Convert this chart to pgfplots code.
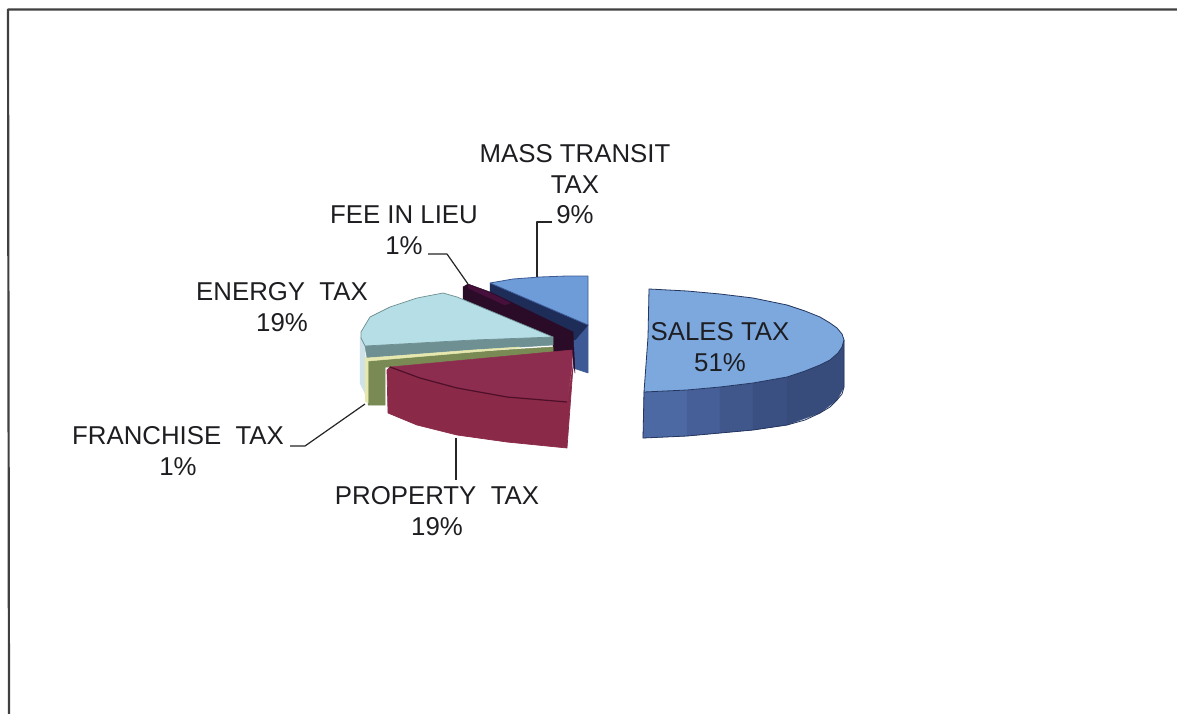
\documentclass[border=0pt]{standalone}
\usepackage{pgfplots}
\pgfplotsset{compat=1.18}
\usepackage{fontspec}
\setmainfont{Liberation Sans}
\definecolor{txt}{HTML}{1E1E22}
\definecolor{salesT}{HTML}{7CA8DE}
\definecolor{salesA}{HTML}{4C69A3}
\definecolor{salesB}{HTML}{465F98}
\definecolor{salesC}{HTML}{40578C}
\definecolor{salesD}{HTML}{3A4F82}
\definecolor{salesE}{HTML}{384C7C}
\definecolor{edgeB}{HTML}{24365F}
\definecolor{massT}{HTML}{6E9CD8}
\definecolor{massS}{HTML}{3D5A96}
\definecolor{massD}{HTML}{1E2C58}
\definecolor{feeC}{HTML}{2A0C28}
\definecolor{feeD}{HTML}{47103C}
\definecolor{engT}{HTML}{B6DEE6}
\definecolor{engS}{HTML}{CFE2EA}
\definecolor{engB}{HTML}{6E9092}
\definecolor{franY}{HTML}{E6E8B0}
\definecolor{franS}{HTML}{7A8A54}
\definecolor{propT}{HTML}{8C2C4E}
\definecolor{propS}{HTML}{8A2A48}
\definecolor{propE}{HTML}{4E0F28}
\begin{document}
\begin{tikzpicture}[every node/.style={font=\fontsize{25.8}{30}\selectfont, text=txt, inner sep=0pt, anchor=center}]
\begin{axis}[
  hide axis, scale only axis, width=1177pt, height=714pt,
  xmin=0, xmax=1177, ymin=0, ymax=714, y dir=reverse,
  clip=true, axis on top=false,
  every axis plot/.append style={mark=none, line join=round}
]
\fill[white] (axis cs:0,0) rectangle (axis cs:1177,714);
% frame
\addplot[draw=black!75, line width=2.2pt] coordinates {(1177,9.5) (8,9.5) (9,714)};
% mass transit
\addplot[fill=massS, draw=massS, line width=.5pt] coordinates {(573,325) (588,325) (588,373) (573,368)} -- cycle;
\addplot[fill=massD, draw=massD, line width=.5pt] coordinates {(490,283) (588,325) (575,340) (490,292)} -- cycle;
\addplot[fill=massT, draw=massS, line width=.8pt] coordinates {(490,283) (513,279) (540,277) (567,276) (588,276) (588,325)} -- cycle;
% fee in lieu
\addplot[fill=feeC, draw=feeC, line width=.5pt] coordinates {(463,287) (468,284) (490,292) (573,332) (575,373) (572,352) (553,352) (553,337) (463,300)} -- cycle;
\addplot[fill=feeD, draw=feeD, line width=.5pt] coordinates {(468,285) (490,293) (510,303) (505,305) (468,288)} -- cycle;
% energy
\addplot[fill=engS, draw=engS, line width=.5pt] coordinates {(360,337) (365,346) (365,393) (360,383)} -- cycle;
\addplot[fill=engB, draw=engB, line width=.5pt] coordinates {(365,346) (473,340) (553,337) (553,345) (473,350) (367,358)} -- cycle;
\addplot[fill=engT, draw=engB, line width=.7pt] coordinates {(361,332) (370,317) (390,307) (417,298) (443,293) (457,297) (553,337) (473,340) (365,346) (361,338)} -- cycle;
% franchise
\addplot[fill=franS, draw=franS, line width=.5pt] coordinates {(368,360) (473,352) (553,347) (553,352) (390,367) (385,367) (385,405) (368,405)} -- cycle;
\addplot[fill=franY, draw=franY, line width=.5pt] coordinates {(367,358) (473,350) (520,347) (520,348) (473,352) (368,361)} -- cycle;
\addplot[fill=franY, draw=franY, line width=.5pt] coordinates {(365,357) (368,360) (368,403) (365,401)} -- cycle;
% property
\addplot[fill=propS, draw=propS, line width=.7pt] coordinates {(387,370) (390,367) (420,378) (457,388) (507,397) (567,402) (573,367) (567,448) (507,442) (457,435) (417,425) (388,413)} -- cycle;
\addplot[fill=propT, draw=propT, line width=.5pt] coordinates {(390,367) (572,350) (572,367) (567,402) (507,397) (457,388) (420,378)} -- cycle;
\addplot[draw=propE, line width=1.2pt] coordinates {(390,367) (420,378) (457,388) (507,397) (567,402)};
% sales side
\addplot[fill=salesA, draw=salesA, line width=.3pt] coordinates {(644,392) (687,390) (687,436) (643,438)} -- cycle;
\addplot[fill=salesB, draw=salesB, line width=.3pt] coordinates {(687,390) (720,387) (720,433) (687,436)} -- cycle;
\addplot[fill=salesC, draw=salesC, line width=.3pt] coordinates {(720,387) (753,383) (753,430) (720,433)} -- cycle;
\addplot[fill=salesD, draw=salesD, line width=.3pt] coordinates {(753,383) (787,377) (787,425) (753,430)} -- cycle;
\addplot[fill=salesE, draw=salesE, line width=.3pt] coordinates {(787,377) (820,365) (838,353) (844,340) (844,387) (837,400) (820,413) (787,425)} -- cycle;
% sales top
\addplot[fill=salesT, draw=edgeB, line width=.8pt] coordinates {(649,289) (687,291) (720,294) (753,298) (787,305) (805,311) (820,317) (830,323) (837,328) (842,334) (844,340) (842,347) (838,353) (830,360) (820,365) (805,371) (787,377) (753,383) (720,387) (687,390) (644,392) (648,337)} -- cycle;
\addplot[draw=edgeB, line width=.8pt] coordinates {(844,340) (844,387) (842,394) (837,400) (830,407) (820,413) (805,420) (787,425) (753,430) (720,433) (687,436) (643,438) (644,392)};
% leaders
\addplot[draw=black!85, line width=1.2pt] coordinates {(552,222) (537,222) (537,277)};
\addplot[draw=black!85, line width=1.2pt] coordinates {(428,254) (447,254) (468,284)};
\addplot[draw=black!85, line width=1.2pt] coordinates {(290,446) (305,446) (365,404)};
\addplot[draw=black!85, line width=1.2pt] coordinates {(456,438) (456,480)};
% labels
\node at (axis cs:575,154) {MASS TRANSIT};
\node at (axis cs:575,185) {TAX};
\node at (axis cs:575,215) {9\%};
\node at (axis cs:404,215) {FEE IN LIEU};
\node at (axis cs:404,246) {1\%};
\node at (axis cs:282,292) {ENERGY\ \ TAX};
\node at (axis cs:282,323) {19\%};
\node at (axis cs:178,436) {FRANCHISE\ \ TAX};
\node at (axis cs:178,467) {1\%};
\node at (axis cs:437,496) {PROPERTY\ \ TAX};
\node at (axis cs:437,527) {19\%};
\node at (axis cs:720,332) {SALES TAX};
\node at (axis cs:720,363) {51\%};
\end{axis}
\end{tikzpicture}
\end{document}
